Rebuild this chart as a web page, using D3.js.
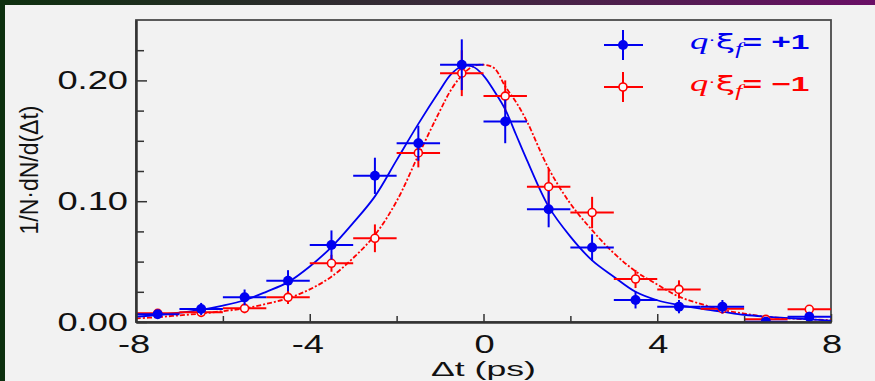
<!DOCTYPE html>
<html><head><meta charset="utf-8">
<script src="https://cdn.jsdelivr.net/npm/d3@7"></script>
<style>
html,body{margin:0;padding:0;background:#0d300f;}
svg{display:block;}
text{font-family:"Liberation Sans",Arial,Helvetica,sans-serif;}
</style></head>
<body>
<svg id="chart" width="875" height="381"></svg>
<script>
// ---------- data ----------
const binCenters = [-7.5,-6.5,-5.5,-4.5,-3.5,-2.5,-1.5,-0.5,0.5,1.5,2.5,3.5,4.5,5.5,6.5,7.5];
const binHalfWidth = 0.5;
const blueValues = [0.0064,0.0108,0.0204,0.0342,0.0638,0.121,0.148,0.213,0.166,0.0934,0.0616,0.0182,0.0127,0.0127,0.0003,0.0044];
const blueErrors = [0.003,0.005,0.0065,0.0087,0.012,0.015,0.0145,0.021,0.018,0.015,0.011,0.007,0.0055,0.0055,0.003,0.004];
const redValues  = [0.0072,0.008,0.0113,0.0204,0.0486,0.0693,0.140,0.206,0.187,0.112,0.0906,0.0356,0.027,0.011,0.0022,0.0105];
const redErrors  = [0.003,0.003,0.004,0.0055,0.007,0.0115,0.012,0.019,0.013,0.015,0.013,0.0075,0.0075,0.004,0.003,0.0035];

const fitX    = [-8,-7.5,-7,-6.5,-6,-5.5,-5,-4.5,-4,-3.5,-3,-2.5,-2,-1.5,-1,-0.75,-0.5,-0.25,0,0.25,0.5,0.75,1,1.5,2,2.5,3,3.5,4,4.5,5,5.5,6,6.5,7,7.5,8];
const blueFit = [0.0044,0.0058,0.0077,0.010,0.0135,0.018,0.025,0.033,0.046,0.062,0.082,0.104,0.134,0.164,0.192,0.205,0.2115,0.2115,0.204,0.191,0.176,0.155,0.134,0.0955,0.0707,0.051,0.0375,0.025,0.018,0.014,0.011,0.0085,0.006,0.0044,0.0032,0.0022,0.0012];
const redFit  = [0.003,0.004,0.0055,0.007,0.009,0.0113,0.015,0.0196,0.027,0.0375,0.053,0.072,0.100,0.138,0.175,0.192,0.204,0.2115,0.213,0.210,0.195,0.182,0.166,0.127,0.098,0.076,0.057,0.042,0.031,0.021,0.015,0.010,0.007,0.0044,0.003,0.0022,0.0015];

const xMajorTicks = [-8,-4,0,4,8];
const xMinorTicks = [-6,-2,2,6];
const yMajorTicks = [0,0.10,0.20];
const yMinorTicks = [0.025,0.05,0.075,0.125,0.15,0.175,0.225];
const yLabels = ["0.00","0.10","0.20"];
const xLabels = ["-8","-4","0","4","8"];
const legendLabels = ["+1","\u22121"];

// ---------- layout ----------
const svg = d3.select("#chart");
const W = 875, H = 381;
const L = 136, R = 831, T = 20, B = 322;
const BLUE = "#0000f0", RED = "#ff0000", PANEL = "#f2f2f2";

const defs = svg.append("defs");
const g1 = defs.append("linearGradient").attr("id","topband").attr("x1","0").attr("x2","1");
g1.append("stop").attr("offset","0").attr("stop-color","#0e300f");
g1.append("stop").attr("offset","0.5").attr("stop-color","#3a2a3a");
g1.append("stop").attr("offset","1").attr("stop-color","#6a0f66");
svg.append("rect").attr("width",W).attr("height",H).attr("fill","#0d300f");
svg.append("rect").attr("width",W).attr("height",5).attr("fill","url(#topband)");
svg.append("rect").attr("x",5).attr("y",5).attr("width",W-5).attr("height",H-5).attr("fill",PANEL);

const x = d3.scaleLinear().domain([-8,8]).range([L,R]);
const y = d3.scaleLinear().domain([0,0.25]).range([B,T]);

const plot = svg.append("g");
plot.append("clipPath").attr("id","clip").append("rect").attr("x",L).attr("y",T).attr("width",R-L).attr("height",B-T);

// frame
plot.append("rect").attr("x",L).attr("y",T).attr("width",R-L).attr("height",B-T)
  .attr("fill","none").attr("stroke","#4a4a4a").attr("stroke-width",1.8);

// y ticks (inward)
const yMajAxis = d3.axisLeft(y).tickValues(yMajorTicks).tickSizeInner(-11).tickSizeOuter(0).tickFormat("");
const yMinAxis = d3.axisLeft(y).tickValues(yMinorTicks).tickSizeInner(-8).tickSizeOuter(0).tickFormat("");
[yMajAxis,yMinAxis].forEach(a=>{
  const gg = svg.append("g").attr("transform",`translate(${L},0)`).call(a);
  gg.select(".domain").attr("stroke","#333").attr("stroke-width",2);
  gg.selectAll(".tick line").attr("stroke","#333").attr("stroke-width",1.5);
});
// x ticks (inward)
const xMajAxis = d3.axisBottom(x).tickValues(xMajorTicks).tickSizeInner(-8).tickSizeOuter(0).tickFormat("");
const xMinAxis = d3.axisBottom(x).tickValues(xMinorTicks).tickSizeInner(-6).tickSizeOuter(0).tickFormat("");
[xMajAxis,xMinAxis].forEach(a=>{
  const gg = svg.append("g").attr("transform",`translate(0,${B})`).call(a);
  gg.select(".domain").attr("stroke","#333").attr("stroke-width",2);
  gg.selectAll(".tick line").attr("stroke","#333").attr("stroke-width",1.5);
});

const SX = 1.45;
// y tick labels
svg.append("g").selectAll("text").data(yMajorTicks).join("text")
  .attr("transform",d=>`translate(${L-8},${y(d)+9}) scale(${SX},1)`)
  .attr("text-anchor","end").attr("font-size",25).attr("fill","#111")
  .text((d,i)=>yLabels[i]);
// x tick labels
svg.append("g").selectAll("text").data(xMajorTicks).join("text")
  .attr("transform",d=>`translate(${x(d)+(d<0?-2:1)},${B+31}) scale(${SX},1)`)
  .attr("text-anchor","middle").attr("font-size",25).attr("fill","#111")
  .text((d,i)=>xLabels[i]);
// axis titles
const xt = svg.append("text").attr("text-anchor","middle").attr("font-size",20.5).attr("fill","#111").text("\u0394t (ps)");
const xtw = xt.node().getBBox().width;
xt.attr("transform",`translate(${(L+R)/2},376) scale(${105/xtw},1)`);
svg.append("text").attr("transform",`translate(38,170) scale(1.12,1) rotate(-90)`)
  .attr("text-anchor","middle").attr("font-size",23).attr("fill","#111").text("1/N\u00B7dN/d(\u0394t)");

// fits
const cg = plot.append("g").attr("clip-path","url(#clip)");
const line = (vals)=>d3.line().x((d,i)=>x(fitX[i])).y(d=>y(d)).curve(d3.curveCatmullRom.alpha(0.5))(vals);
cg.append("path").attr("d",line(redFit)).attr("fill","none").attr("stroke",RED).attr("stroke-width",1.8).attr("stroke-dasharray","5,2,2,2");
cg.append("path").attr("d",line(blueFit)).attr("fill","none").attr("stroke",BLUE).attr("stroke-width",1.8);

// data points
function drawSeries(vals, errs, color, filled){
  const g = cg.append("g");
  const pts = binCenters.map((c,i)=>({c, v:vals[i], e:errs[i]}));
  g.selectAll("line.h").data(pts).join("line")
    .attr("x1",d=>x(d.c-binHalfWidth)).attr("x2",d=>x(d.c+binHalfWidth))
    .attr("y1",d=>y(d.v)).attr("y2",d=>y(d.v))
    .attr("stroke",color).attr("stroke-width",2);
  g.selectAll("line.v").data(pts).join("line")
    .attr("x1",d=>x(d.c)).attr("x2",d=>x(d.c))
    .attr("y1",d=>y(d.v-d.e)).attr("y2",d=>y(d.v+d.e))
    .attr("stroke",color).attr("stroke-width",2);
  g.selectAll("circle").data(pts).join("circle")
    .attr("cx",d=>x(d.c)).attr("cy",d=>y(d.v))
    .attr("r",filled?5:4)
    .attr("fill",filled?color:"#fafafa").attr("stroke",color).attr("stroke-width",filled?0:1.6);
}
drawSeries(redValues, redErrors, RED, false);
drawSeries(blueValues, blueErrors, BLUE, true);

// legend
const legend = svg.append("g");
const lg = [{c:BLUE,f:true,y:45,lab:legendLabels[0]},{c:RED,f:false,y:87,lab:legendLabels[1]}];
lg.forEach(d=>{
  const g = legend.append("g");
  g.append("line").attr("x1",604).attr("x2",643).attr("y1",d.y).attr("y2",d.y).attr("stroke",d.c).attr("stroke-width",2);
  g.append("line").attr("x1",623).attr("x2",623).attr("y1",d.y-15).attr("y2",d.y+15).attr("stroke",d.c).attr("stroke-width",2);
  g.append("circle").attr("cx",623).attr("cy",d.y).attr("r",d.f?5:4)
    .attr("fill",d.f?d.c:"#fafafa").attr("stroke",d.c).attr("stroke-width",d.f?0:1.6);
  const t = g.append("text").attr("font-size",21).attr("fill",d.c);
  t.append("tspan").attr("font-family","Liberation Serif, serif").attr("font-style","italic").attr("font-size",23).text("q");
  t.append("tspan").attr("font-size",14).attr("dy",-5).text("\u00B7");
  t.append("tspan").attr("dy",5).attr("font-family","DejaVu Sans, sans-serif").attr("font-size",22).text("\u03BE");
  t.append("tspan").attr("font-family","Liberation Serif, serif").attr("font-style","italic").attr("font-size",16).attr("dy",5).text("f");
  t.append("tspan").attr("dy",-5).attr("font-weight","bold").text("= " + d.lab);
  const bw = t.node().getBBox().width;
  const s = 120/bw;
  t.attr("transform",`translate(690,${d.y+4}) scale(${s},1)`);
});
</script>
</body></html>
